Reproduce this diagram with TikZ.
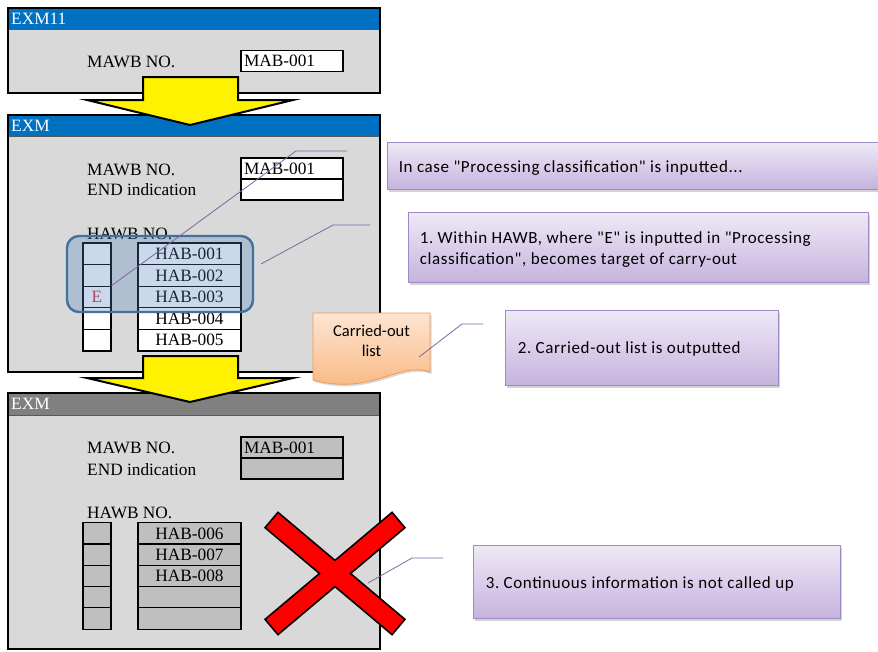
\documentclass[tikz,border=0pt]{standalone}
\usepackage{fontspec}
\setmainfont{Liberation Serif}
\newfontfamily\calfont[LetterSpace=3.5]{Carlito}
\newfontfamily\docfont{Carlito}
\usetikzlibrary{shadows}
\definecolor{winbg}{HTML}{D9D9D9}
\definecolor{titleblue}{HTML}{0070C0}
\definecolor{titlegray}{HTML}{808080}
\definecolor{fieldgray}{HTML}{BFBFBF}
\definecolor{hlfill}{HTML}{4F81BD}
\definecolor{hldraw}{HTML}{41719C}
\definecolor{calltop}{HTML}{EFE9F7}
\definecolor{callbot}{HTML}{C6B3DE}
\definecolor{callborder}{HTML}{9F8AC6}
\definecolor{leader}{HTML}{8064A2}
\definecolor{doctop}{HTML}{FDE5D2}
\definecolor{docbot}{HTML}{F9B47C}
\definecolor{docborder}{HTML}{F79646}
\definecolor{ered}{HTML}{D6323F}
\frenchspacing
\begin{document}
\begin{tikzpicture}[x=1pt,y=-1pt,
  serif/.style={font=\fontsize{17.3}{20}\selectfont},
  lbl/.style={serif, anchor=west, inner sep=0pt},
  titletext/.style={serif, text=white, anchor=west, inner sep=0pt},
  winframe/.style={draw=black, line width=1.6pt},
  titlesep/.style={draw=black!65, line width=1pt},
  field/.style={draw=black, line width=1.2pt, fill=white, serif, text width=96pt, align=left, inner xsep=3pt, inner ysep=0pt, minimum height=21pt},
  smallcell/.style={draw=black, line width=1.2pt, fill=white, serif, minimum width=28pt, minimum height=21.6pt, inner sep=0pt},
  bigcell/.style={draw=black, line width=1.2pt, fill=white, serif, minimum width=103pt, minimum height=21.6pt, inner sep=0pt},
  grayed/.style={fill=fieldgray},
  yarrow/.style={draw=black, line width=2pt, fill=yellow, line join=miter},
  callout/.style={draw=callborder, line width=0.8pt, top color=calltop, bottom color=callbot,
    drop shadow={shadow xshift=2pt, shadow yshift=-2.5pt, opacity=0.35}, inner sep=0pt},
  calltext/.style={font=\calfont\fontsize{17}{21}\selectfont, align=left, anchor=west, inner sep=0pt},
  leaderline/.style={draw=leader, line width=0.8pt},
]
\clip (0,0) rectangle (878,651);
\useasboundingbox (0,0) rectangle (878,651);

% ---------- window 1 ----------
\fill[winbg] (8,29) rectangle (380,93);
\fill[titleblue] (8,8) rectangle (380,29);
\draw[titlesep] (8,29) -- (380,29);
\draw[winframe] (8,8) rectangle (380,93);
\node[titletext] (t1) at (11,18.5) {EXM11};
\node[lbl] (m1) at (87,62) {MAWB NO.};
\node[field] (f1) at (292,61) {MAB-001};

% ---------- window 2 ----------
\fill[winbg] (8,136) rectangle (380,372);
\fill[titleblue] (8,115) rectangle (380,136);
\draw[titlesep] (8,136) -- (380,136);
\draw[winframe] (8,115) rectangle (380,372);
\node[titletext] (t2) at (11,126) {EXM};
\node[lbl] (m2) at (87,169.5) {MAWB NO.};
\node[lbl] (e2) at (87,190) {END indication};
\node[lbl] (h2) at (87,233.5) {HAWB NO.};
\node[field] (f2a) at (292,168.5) {MAB-001};
\node[field] (f2b) at (292,189.5) {};
\foreach \i/\y/\t/\e in {1/253.8/HAB-001/,2/275.4/HAB-002/,3/297/HAB-003/E,4/318.6/HAB-004/,5/340.2/HAB-005/}{
  \node[smallcell, text=ered] (s2\i) at (97,\y) {\e};
  \node[bigcell] (b2\i) at (189.5,\y) {\t};
}
% highlight
\node[draw=hldraw, line width=2.4pt, fill=hlfill, fill opacity=0.3, rounded corners=12pt,
  minimum width=186pt, minimum height=76pt, inner sep=0pt] (hl) at (160,274) {};

% ---------- window 3 ----------
\fill[winbg] (8,415) rectangle (380,649);
\fill[titlegray] (8,393) rectangle (380,415);
\draw[titlesep] (8,415) -- (380,415);
\draw[winframe] (8,393) rectangle (380,649);
\node[titletext] (t3) at (11,404) {EXM};
\node[lbl] (m3) at (87,448) {MAWB NO.};
\node[lbl] (e3) at (87,469.5) {END indication};
\node[lbl] (h3) at (87,513) {HAWB NO.};
\node[field, grayed] (f3a) at (292,447.5) {MAB-001};
\node[field, grayed] (f3b) at (292,468.5) {};
\foreach \i/\y/\t in {1/533.6/HAB-006,2/554.8/HAB-007,3/576/HAB-008,4/597.2/,5/618.4/}{
  \node[smallcell, grayed] (s3\i) at (97,\y) {};
  \node[bigcell, grayed] (b3\i) at (189.5,\y) {\t};
}

% ---------- yellow arrows ----------
\draw[yarrow] (143,77) -- (238,77) -- (238,100) -- (293,100) -- (190,125) -- (87,100) -- (143,100) -- cycle;
\draw[yarrow] (143,356) -- (238,356) -- (238,378) -- (293,378) -- (190,402) -- (87,378) -- (143,378) -- cycle;

% ---------- carried-out list document ----------
\draw[docborder, line width=0.8pt, top color=doctop, bottom color=docbot,
  drop shadow={shadow xshift=1.5pt, shadow yshift=-2pt, opacity=0.3}]
  (313,313) -- (430,313) -- (430,372) .. controls (398,361) and (372,396) .. (313,380) -- cycle;
\node[font=\docfont\fontsize{16.5}{20}\selectfont, align=center, inner sep=0pt] (doc) at (371.5,340.5) {Carried-out\\list};

% ---------- red cross ----------
\draw[draw=black, line width=1.6pt, fill=red, line join=miter]
  (335,560.4) -- (392.05,512.35) -- (404.95,527.65) -- (350.5,573.5)
  -- (404.95,619.35) -- (392.05,634.65) -- (335,586.6)
  -- (277.95,634.65) -- (265.05,619.35) -- (319.5,573.5)
  -- (265.05,527.65) -- (277.95,512.35) -- cycle;

% ---------- callout boxes ----------
\node[callout, minimum width=495pt, minimum height=47pt] (c0) at (634.5,165.5) {};
\node[calltext] (c0t) at ([xshift=12pt, yshift=-2.5pt]c0.west) {In case "Processing classification" is inputted...};
\node[callout, minimum width=460pt, minimum height=70pt] (c1) at (638,247) {};
\node[calltext] (c1t) at ([xshift=12pt, yshift=-2.5pt]c1.west) {1. Within HAWB, where "E" is inputted in "Processing\\classification", becomes target of carry-out};
\node[callout, minimum width=273pt, minimum height=75pt] (c2) at (641.5,347.5) {};
\node[calltext] (c2t) at ([xshift=13pt, yshift=-1.5pt]c2.west) {2. Carried-out list is outputted};
\node[callout, minimum width=367pt, minimum height=73pt] (c3) at (656.5,581.5) {};
\node[calltext] (c3t) at ([xshift=13pt, yshift=-2pt]c3.west) {3. Continuous information is not called up};

% ---------- leader lines ----------
\coordinate (k0) at (296,151);
\coordinate (k0e) at (347,151);
\draw[leaderline] (s23.north east) -- (k0) -- (k0e);
\coordinate (k1s) at (261,264);
\coordinate (k1) at (333,225);
\coordinate (k1e) at (370,225);
\draw[leaderline] (k1s) -- (k1) -- (k1e);
\coordinate (k2s) at (419,357);
\coordinate (k2) at (462,324);
\coordinate (k2e) at (483,324);
\draw[leaderline] (k2s) -- (k2) -- (k2e);
\coordinate (k3s) at (368,583);
\coordinate (k3) at (412,558);
\coordinate (k3e) at (443,558);
\draw[leaderline] (k3s) -- (k3) -- (k3e);
\end{tikzpicture}
\end{document}
